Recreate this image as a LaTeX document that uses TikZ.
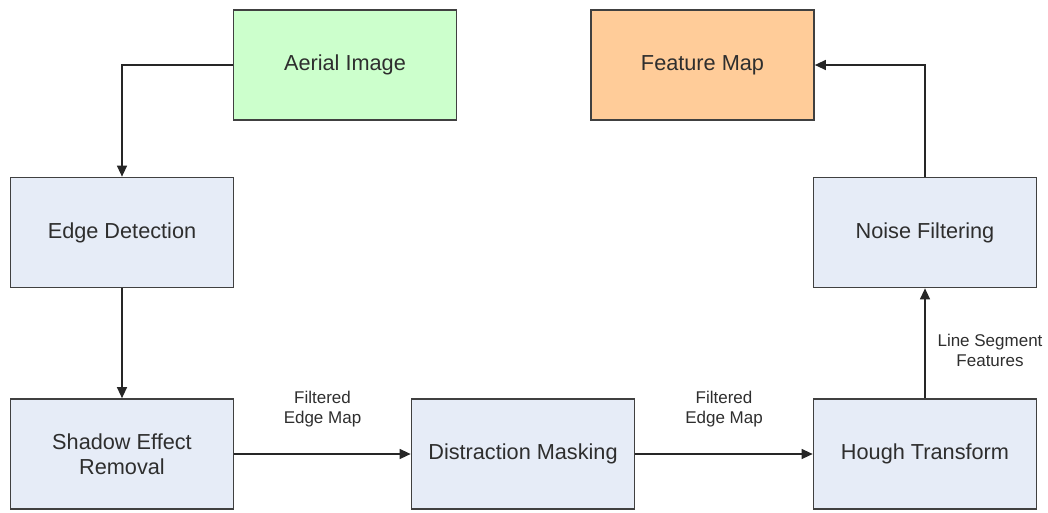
\documentclass[tikz,border=0pt]{standalone}
\usepackage{fontspec}
\setmainfont{Liberation Sans}
\usetikzlibrary{arrows.meta}
\definecolor{boxblue}{HTML}{E6ECF7}
\definecolor{boxgreen}{HTML}{CCFFCC}
\definecolor{boxorange}{HTML}{FFCC99}
\definecolor{edgegray}{HTML}{404040}
\definecolor{textgray}{HTML}{2E2E2E}
\tikzset{
  procbox/.style={draw=edgegray, line width=1.7pt, minimum width=223pt, minimum height=110pt,
    inner sep=0pt, align=center, text=textgray, font=\fontsize{21.7}{25}\selectfont},
  arr/.style={draw=black!85, line width=1.3pt, -{Triangle[length=11pt,width=10pt]}},
  lbl/.style={align=center, text=textgray, font=\fontsize{17}{20}\selectfont, inner sep=0pt}
}
\begin{document}
\begin{tikzpicture}[x=1pt,y=-1pt]
\useasboundingbox (0,0) rectangle (1048,512);
\node[procbox, fill=boxgreen] (aerial) at (345,65) {Aerial Image};
\node[procbox, fill=boxorange] (feature) at (702.5,65) {Feature Map};
\node[procbox, fill=boxblue] (edge) at (122,232.5) {Edge Detection};
\node[procbox, fill=boxblue] (noise) at (925,232.5) {Noise Filtering};
\node[procbox, fill=boxblue] (shadow) at (122,454) {Shadow Effect\\Removal};
\node[procbox, fill=boxblue] (distr) at (523,454) {Distraction Masking};
\node[procbox, fill=boxblue] (hough) at (925,454) {Hough Transform};

\draw[arr] (aerial.west) -| (edge.north);
\draw[arr] (edge.south) -- (shadow.north);
\draw[arr] (shadow.east) -- node[lbl, midway, yshift=45pt] (l1) {Filtered\\Edge Map} (distr.west);
\draw[arr] (distr.east) -- node[lbl, midway, yshift=45pt] (l2) {Filtered\\Edge Map} (hough.west);
\draw[arr] (hough.north) -- node[lbl, midway, xshift=65pt, yshift=-7pt] (l3) {Line Segment\\Features} (noise.south);
\draw[arr] (noise.north) |- (feature.east);
\end{tikzpicture}
\end{document}
